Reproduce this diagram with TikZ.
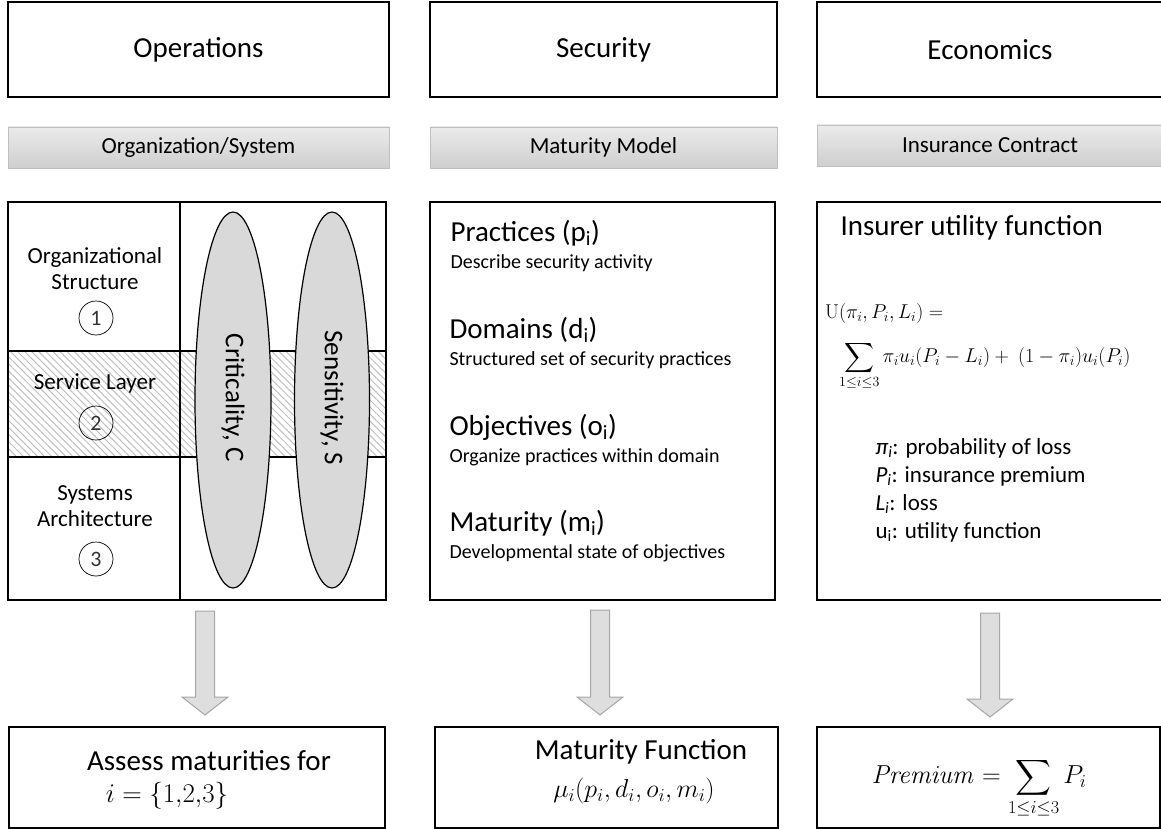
\RequirePackage{fix-cm}
\documentclass[tikz,border=0pt]{standalone}
\usepackage{exscale}
\usepackage[no-math]{fontspec}
\setmainfont{Carlito}
\usetikzlibrary{patterns.meta,calc}

\newcommand{\titlesize}{\fontsize{29}{34}\selectfont}
\newcommand{\barsize}{\fontsize{23}{27}\selectfont}
\newcommand{\notesize}{\fontsize{20}{24}\selectfont}

% block arrow from top coordinate #1 down to tip coordinate #2
\newcommand{\blockarrow}[2]{%
  \draw[arrowline] let \p1=(#1), \p2=(#2) in
    (\x1-9.5pt,\y1) -- (\x1+9.5pt,\y1) -- (\x1+9.5pt,\y2+18pt) -- (\x1+23pt,\y2+18pt)
    -- (\x1,\y2) -- (\x1-23pt,\y2+18pt) -- (\x1-9.5pt,\y2+18pt) -- cycle;}

\tikzset{
  headbox/.style={draw, line width=1.3pt, inner sep=0pt, font=\titlesize},
  greybar/.style={draw=black!25, line width=0.8pt, top color=black!8, bottom color=black!19, inner sep=0pt, font=\barsize},
  panel/.style={draw, line width=1.3pt, inner sep=0pt},
  numcirc/.style={draw, circle, line width=0.7pt, minimum size=34pt, inner sep=0pt, text=black!80, font=\fontsize{22}{26}\selectfont},
  ovalfill/.style={draw, line width=1.2pt, fill=black!15},
  arrowline/.style={draw=black!35, line width=1pt, fill=black!13},
}

\begin{document}
\begin{tikzpicture}[x=1pt,y=-1pt]
\useasboundingbox (0,0) rectangle (1161,829);

% column heads
\node[headbox, minimum width=381pt, minimum height=95pt] (ops) at (198.5,49.5) {Operations};
\node[headbox, minimum width=347pt, minimum height=95pt] (sec) at (603.5,49.5) {Security};
\node[headbox, minimum width=346pt, minimum height=95pt] (eco) at (990,49.5) {Economics};

\node[greybar, minimum width=381pt, minimum height=41pt] (orgbar) at (198.5,147.5) {Organization/System};
\node[greybar, minimum width=347pt, minimum height=41pt] (matbar) at (603.5,147.5) {Maturity Model};
\node[greybar, minimum width=346pt, minimum height=41pt] (insbar) at (990,145.5) {Insurance Contract};

% left panel
\fill[pattern={Lines[angle=-45,distance=5pt,line width=1pt]}, pattern color=black!25] (8,351) rectangle (386,457);
\draw[line width=1.3pt] (8,351) -- (386,351);
\draw[line width=1.3pt] (8,457) -- (386,457);
\draw[line width=1.3pt] (180,202) -- (180,600);
\node[panel, minimum width=378pt, minimum height=398pt] (orgpanel) at (197,401) {};

\node[font=\barsize, align=center] (orgtxt) at (95,268.5) {Organizational\\[-1pt]Structure};
\node[numcirc] (n1) at (96,318) {1};
\node[font=\barsize] (srvtxt) at (95,383) {Service Layer};
\node[numcirc] (n2) at (96,423) {2};
\node[font=\barsize, align=center] (systxt) at (95,506.5) {Systems\\[-1pt]Architecture};
\node[numcirc] (n3) at (96,559) {3};

\draw[ovalfill] (233,400) ellipse [x radius=38, y radius=188];
\draw[ovalfill] (332,400) ellipse [x radius=37.5, y radius=188];
\node[rotate=-90, font=\fontsize{27}{32}\selectfont] (crit) at (233,398) {Criticality, C};
\node[rotate=-90, font=\fontsize{27}{32}\selectfont] (sens) at (332,398) {Sensitivity, S};

% middle panel
\node[panel, minimum width=345pt, minimum height=398pt] (matpanel) at (602.5,401) {};
\node[anchor=west, font=\titlesize] (prac) at (447,233) {Practices (p\textsubscript{i})};
\node[anchor=west, font=\notesize] (pracd) at (447,263) {Describe security activity};
\node[anchor=west, font=\titlesize] (dom) at (446,330) {Domains (d\textsubscript{i})};
\node[anchor=west, font=\notesize] (domd) at (446,360) {Structured set of security practices};
\node[anchor=west, font=\titlesize] (obj) at (446,427) {Objectives (o\textsubscript{i})};
\node[anchor=west, font=\notesize] (objd) at (446,457) {Organize practices within domain};
\node[anchor=west, font=\titlesize] (mat) at (446,523) {Maturity (m\textsubscript{i})};
\node[anchor=west, font=\notesize] (matd) at (446,553) {Developmental state of objectives};

% right panel
\node[panel, minimum width=346pt, minimum height=398pt] (inspanel) at (990,401) {};
\node[anchor=west, font=\titlesize] (insttl) at (837,228) {Insurer utility function};
\node[anchor=west, font=\notesize, inner sep=0pt] (ufn) at (825,313) {$\mathrm{U}(\pi_i,P_i,L_i) =$};
\node[anchor=west, font=\notesize, inner sep=0pt] (usum) at (839,366) {$\displaystyle\sum_{1\le i\le 3}\pi_i u_i(P_i-L_i)+\ (1-\pi_i)u_i(P_i)$};
\node[anchor=north west, font=\barsize, align=left] (legend) at (872,435)
  {\textit{π\textsubscript{i}}: probability of loss\\[1pt]
   \textit{P\textsubscript{i}}: insurance premium\\[1pt]
   \textit{L\textsubscript{i}}: loss\\[1pt]
   u\textsubscript{i}: utility function};

% results
\node[panel, minimum width=376pt, minimum height=101pt] (assess) at (197,777.5) {};
\node[font=\titlesize, inner sep=0pt] (asstxt) at (209,761) {Assess maturities for};
\node[font=\fontsize{27}{32}\selectfont, inner sep=0pt] (assmath) at (167,796) {$i=\{1{,}2{,}3\}$};

\node[panel, minimum width=343pt, minimum height=101pt] (mufun) at (606.5,777.5) {};
\node[font=\titlesize, inner sep=0pt] (mutxt) at (641,752) {Maturity Function};
\node[font=\fontsize{26}{30}\selectfont, inner sep=0pt] (mumath) at (634,791) {$\mu_i(p_i,d_i,o_i,m_i)$};

\node[panel, minimum width=343pt, minimum height=101pt] (prem) at (988.5,777.5) {};
\node[font=\fontsize{26}{30}\selectfont] (premmath) at (979,788) {$\mathit{Premium}=\displaystyle\sum_{1\le i\le 3}P_i$};

% arrows
\coordinate (a1) at (205,611);
\coordinate (t1) at (205,715);
\coordinate (a2) at (600,610);
\coordinate (t2) at (600,715);
\coordinate (a3) at (990,613);
\coordinate (t3) at (990,717);
\blockarrow{a1}{t1}
\blockarrow{a2}{t2}
\blockarrow{a3}{t3}
\end{tikzpicture}
\end{document}
